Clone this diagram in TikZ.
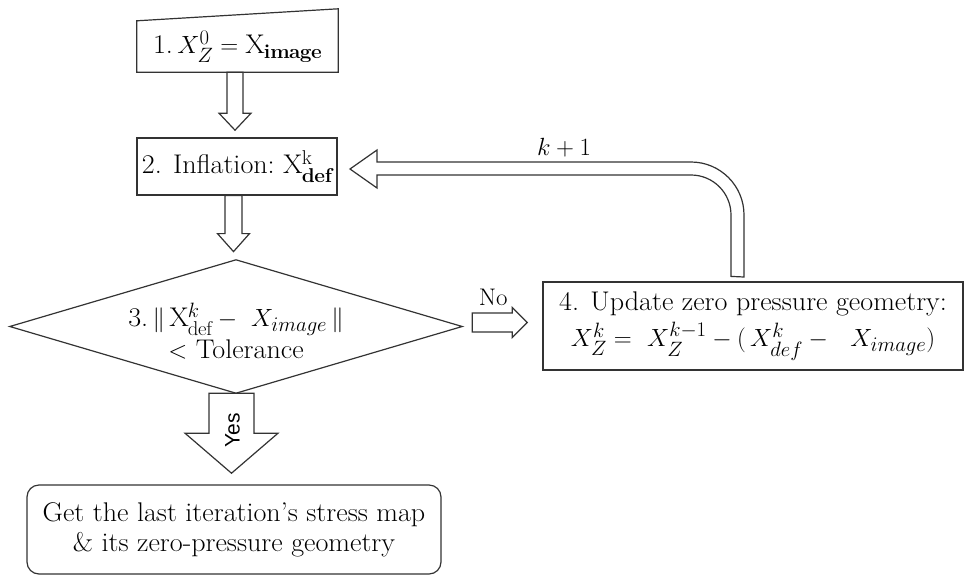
\documentclass[tikz,border=0pt]{standalone}
\usepackage{fontspec}
\usepackage{amsmath}
\setmainfont{Latin Modern Roman}[FakeStretch=1.04]
\newfontfamily\yesfont{Liberation Sans}
\DeclareMathSizes{27}{27}{20}{15}
\DeclareMathSizes{25}{25}{19}{14}
\usetikzlibrary{calc}
\tikzset{
  ln/.style={draw=black!80, line width=1.2pt},
  blk/.style={ln, fill=white, line join=miter},
  txt/.style={font=\fontsize{27}{30}\selectfont, align=center, inner sep=0pt},
}
\begin{document}
\begin{tikzpicture}[x=1pt, y=-1pt]
\useasboundingbox (0,0) rectangle (965,576);
% box 1 (manual input)
\node[txt, minimum width=201, minimum height=51] (b1) at (237.5,46.5) {1.\,$X_Z^0 = \mathrm{X}_{\mathbf{image}}$};
\draw[ln] (b1.south west) -- (b1.north west) -- ($(b1.north east)+(0,-12)$) -- (b1.south east) -- cycle;
% box 2
\node[txt, ln, minimum width=200, minimum height=57] (b2) at (237,166.5) {2. Inflation:\ $\mathrm{X}^{\mathrm{k}}_{\mathbf{def}}$};
% diamond
\node[txt, minimum width=452, minimum height=133] (d) at (236,326.5) {};
\draw[ln] (d.west) -- (d.north) -- (d.east) -- (d.south) -- cycle;
\node[txt] (dt) at (236,331) {3.\,$\|\,\mathrm{X}^{k}_{\mathrm{def}} -\ X_{image}\,\|$\\[2pt] $<$ Tolerance};
% box 4
\node[txt, ln, minimum width=420, minimum height=88] (b4) at (753,326) {4. Update zero pressure geometry:\\[5pt] $X_Z^k =\ X_Z^{k-1} - (\,X_{def}^k -\ \ X_{image})$};
% final box
\node[txt, ln, rounded corners=12pt, minimum width=414, minimum height=89] (b5) at (234,529.5) {Get the last iteration’s stress map\\ \& its zero-pressure geometry};
% block arrows
\newcommand\blkdown[5]{%
  \draw[blk] ($#1+(-#3,0)$) -- ++(0,#2) -- ++({-(#4-#3)},0) -- ++(#4,#5) -- ++(#4,-#5) -- ++({-(#4-#3)},0) -- ++(0,-#2) -- cycle;}
\coordinate (a1) at ($(b1.south)+(-2.5,0)$);
\blkdown{(a1)}{41}{8}{16}{17}
\coordinate (a2) at ($(b2.south)+(-3.5,0)$);
\blkdown{(a2)}{38}{8.5}{16}{18}
\coordinate (a3) at ($(d.south)+(-4.5,0)$);
\blkdown{(a3)}{40}{22.5}{46.5}{40}
\node[font=\yesfont\fontsize{21}{24}\selectfont, rotate=90, inner sep=0pt] (yes) at ($(a3)+(1,37)$) {Yes};
% No arrow
\coordinate (a4) at ($(d.east)+(10,-4)$);
\draw[blk] ($(a4)+(0,-9.5)$) -- ++(40,0) -- ++(0,-5.5) -- ++(15,15) -- ++(-15,15) -- ++(0,-5.5) -- ++(-40,0) -- cycle;
\node[font=\fontsize{24}{26}\selectfont, inner sep=0pt] (no) at ($(a4)+(21,-25)$) {No};
% feedback arrow
\coordinate (fb) at ($(b4.north)+(-22,-5)$);
\draw[blk] (fb) -- (731,215) arc[start angle=0, end angle=-90, radius=40]
  -- (377,175) -- (377,188) -- (350,169) -- (377,150) -- (377,162) -- (691,162)
  arc[start angle=-90, end angle=0, radius=53] -- (744,277) -- cycle;
\node[font=\fontsize{25}{26}\selectfont, inner sep=0pt] (kp) at (564,148) {$k+1$};
\end{tikzpicture}
\end{document}
